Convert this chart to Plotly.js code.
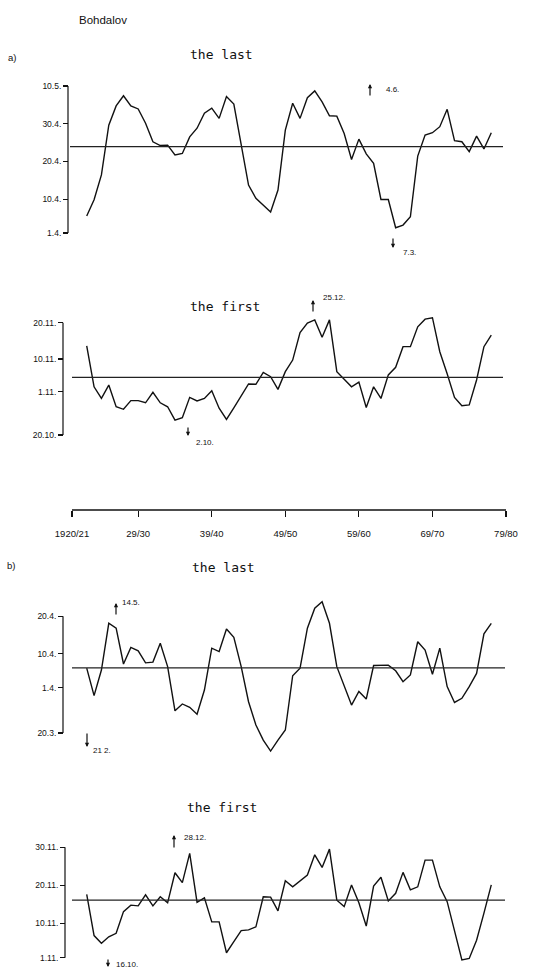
<!DOCTYPE html>
<html><head><meta charset="utf-8">
<script src="https://cdn.plot.ly/plotly-3.0.1.min.js"></script>
<style>html,body{margin:0;padding:0;background:#fff}#chart{width:534px;height:968px}</style>
</head><body><div id="chart"></div>
<script>
// Seasons (x) and axis tick labels
const seasons = [1922,1923,1924,1925,1926,1927,1928,1929,1930,1931,1932,1933,1934,1935,1936,1937,1938,1939,1940,1941,1942,1943,1944,1945,1946,1947,1948,1949,1950,1951,1952,1953,1954,1955,1956,1957,1958,1959,1960,1961,1962,1963,1964,1965,1966,1967,1968,1969,1970,1971,1972,1973,1974,1975,1976,1977];
const xTickVals = [1920,1929,1939,1949,1959,1969,1979];
const xTickText = ['1920/21','29/30','39/40','49/50','59/60','69/70','79/80'];

// a) the last (day of April: 1 = 1.4., 40 = 10.5.)
const lastA = [5.5,9.8,16.4,29.6,34.7,37.4,34.7,33.9,30.1,25.2,24.2,24.3,21.7,22.1,26.5,28.8,32.8,34.1,31.4,37.2,35.2,24.8,13.7,10.2,8.4,6.6,12.4,28.3,35.4,31.4,36.9,38.7,35.8,32.1,32.0,27.4,20.5,25.9,22.0,19.5,9.9,9.9,2.4,3.1,5.3,21.4,27.0,27.6,29.2,33.8,25.5,25.2,22.6,26.7,23.3,27.6];
const meanLastA = 23.9;
const ticksLastA = [1,10,20,30,40];
const labelsLastA = ['1.4.','10.4.','20.4.','30.4.','10.5.'];

// a) the first (day counted from 1 October: 20 = 20.10., 32 = 1.11.)
const firstA = [44.6,33.3,30.1,33.8,27.8,27.1,29.5,29.5,28.9,31.8,28.9,27.8,24.1,24.8,30.4,29.4,30.1,32.2,27.4,24.3,27.5,30.8,34.1,34.0,37.3,36.1,32.6,37.5,40.7,48.3,50.9,51.8,47.0,51.8,37.5,35.4,33.3,34.6,27.6,33.3,30.1,36.6,38.7,44.4,44.4,49.9,52.0,52.4,43.0,36.9,30.4,28.1,28.3,35.2,44.4,47.6];
const meanFirstA = 35.9;
const ticksFirstA = [20,32,41,51];
const labelsFirstA = ['20.10.','1.11.','10.11.','20.11.'];

// b) the last (day counted from 1 March: 20 = 20.3., 32 = 1.4.)
const lastB = [37.2,29.9,36.7,49.1,47.8,38.3,42.7,41.8,38.6,38.8,43.8,37.6,25.9,27.7,26.8,25.0,31.4,42.5,41.6,47.6,45.4,37.6,28.3,22.1,18.1,15.2,18.1,20.8,35.2,37.2,47.8,53.1,54.8,49.1,37.6,32.3,27.4,31.0,29.0,37.9,38.0,38.0,36.5,33.6,35.4,44.2,42.0,35.6,42.5,32.3,28.1,29.2,32.3,35.8,46.3,49.1];
const meanLastB = 37.3;
const ticksLastB = [20,32,41,51];
const labelsLastB = ['20.3.','1.4.','10.4.','20.4.'];

// b) the first (day counted from 1 October: 32 = 1.11.)
const firstB = [48.6,37.8,35.8,37.5,38.4,44.1,45.8,45.6,48.5,45.6,48.0,46.4,54.3,51.7,59.4,46.5,47.7,41.4,41.4,33.3,36.2,39.1,39.3,40.1,48.0,47.9,44.3,52.2,50.6,52.1,53.7,59.0,55.7,60.5,47.1,45.4,51.1,46.4,40.3,50.8,53.1,46.9,48.9,54.4,49.8,50.6,57.6,57.6,50.6,46.7,39.3,31.4,31.8,36.6,43.7,51.1];
const meanFirstB = 47.1;
const ticksFirstB = [32,41,51,61];
const labelsFirstB = ['1.11.','10.11.','20.11.','30.11.'];

// ---------- layout geometry ----------
const W = 534, H = 968;
const pxPerYear = 7.356, x0px = 72, x0yr = 1920;
const xr = [x0yr - x0px / pxPerYear, x0yr + (W - x0px) / pxPerYear];
const fy = p => 1 - p / H;
const fx = p => p / W;

const panels = [
  {y: lastA,  mean: meanLastA,  tv: ticksLastA,  tt: labelsLastA,  d0: 1,  p0: 233,   s: 3.77, top: 78,  bot: 242, ax: 68, l0: 70, l1: 503},
  {y: firstA, mean: meanFirstA, tv: ticksFirstA, tt: labelsFirstA, d0: 20, p0: 435,   s: 3.62, top: 312, bot: 446, ax: 63, l0: 72, l1: 503},
  {y: lastB,  mean: meanLastB,  tv: ticksLastB,  tt: labelsLastB,  d0: 20, p0: 733,   s: 3.77, top: 596, bot: 760, ax: 63, l0: 72, l1: 505},
  {y: firstB, mean: meanFirstB, tv: ticksFirstB, tt: labelsFirstB, d0: 32, p0: 957.7, s: 3.81, top: 836, bot: 968, ax: 65, l0: 72, l1: 505}
];

const traces = [];
const shapes = [];
const layout = {
  width: W, height: H,
  margin: {l: 0, r: 0, t: 0, b: 0},
  paper_bgcolor: '#fff', plot_bgcolor: 'rgba(0,0,0,0)',
  showlegend: false,
  font: {family: 'Liberation Sans, Arial, sans-serif', color: '#000'},
  xaxis: {
    domain: [0, 1], range: xr, anchor: 'free', position: fy(510),
    tickvals: xTickVals, ticktext: xTickText,
    ticks: 'outside', ticklen: 6, tickwidth: 1.2, tickcolor: '#111',
    ticklabelstandoff: 9,
    showgrid: false, zeroline: false, showline: false,
    tickfont: {family: 'Liberation Sans, Arial, sans-serif', size: 9.5, color: '#111'}
  }
};

panels.forEach((p, i) => {
  const yid = i === 0 ? 'y' : 'y' + (i + 1);
  const yname = i === 0 ? 'yaxis' : 'yaxis' + (i + 1);
  const rng = [p.d0 + (p.p0 - p.bot) / p.s, p.d0 + (p.p0 - p.top) / p.s];
  layout[yname] = {
    domain: [fy(p.bot), fy(p.top)], range: rng,
    anchor: 'free', position: fx(p.ax),
    tickvals: p.tv, ticktext: p.tt,
    ticks: 'outside', ticklen: 5, tickwidth: 1.1, tickcolor: '#111',
    showgrid: false, zeroline: false, showline: false,
    tickfont: {family: 'Liberation Sans, Arial, sans-serif', size: 8.5, color: '#111'}
  };
  traces.push({
    x: seasons, y: p.y, xaxis: 'x', yaxis: yid,
    type: 'scatter', mode: 'lines',
    line: {color: '#111', width: 1.4}, hoverinfo: 'skip'
  });
  // long-term mean
  shapes.push({type: 'line', xref: 'paper', yref: yid, x0: fx(p.l0), x1: fx(p.l1), y0: p.mean, y1: p.mean,
    line: {color: '#222', width: 1.2}});
  // y-axis bracket between extreme ticks
  shapes.push({type: 'line', xref: 'paper', yref: yid, x0: fx(p.ax), x1: fx(p.ax),
    y0: Math.min(...p.tv), y1: Math.max(...p.tv), line: {color: '#111', width: 1.2}});
});

// x axis line
shapes.push({type: 'line', xref: 'paper', yref: 'paper', x0: fx(72), x1: fx(506), y0: fy(510), y1: fy(510),
  line: {color: '#111', width: 1.3}});
layout.shapes = shapes;

const titleFont = {family: 'DejaVu Sans Mono, monospace', size: 13, color: '#111'};
const smallFont = {family: 'Liberation Sans, Arial, sans-serif', size: 8, color: '#111'};
function txt(t, x, y, font) {
  return {text: t, x: fx(x), y: fy(y), xref: 'paper', yref: 'paper', showarrow: false,
    xanchor: 'center', yanchor: 'middle', font: font};
}
function arrow(x, yHead, len) { // len>0: tail below head (pointing up); len<0: pointing down
  return {text: '', x: fx(x), y: fy(yHead), xref: 'paper', yref: 'paper', showarrow: true,
    ax: 0, ay: len, arrowhead: 2, arrowsize: 0.7, arrowwidth: 1.2, arrowcolor: '#111', standoff: 0, startstandoff: 0};
}
layout.annotations = [
  txt('Bohdalov', 103, 20, {family: 'Liberation Sans, Arial, sans-serif', size: 11.5, color: '#111'}),
  txt('a)', 12, 58, {family: 'Liberation Sans, Arial, sans-serif', size: 9.5, color: '#111'}),
  txt('the last', 221, 55, titleFont),
  txt('the first', 225, 306, titleFont),
  txt('b)', 11, 565, {family: 'Liberation Sans, Arial, sans-serif', size: 9.5, color: '#111'}),
  txt('the last', 223, 567, titleFont),
  txt('the first', 222, 807, titleFont),
  arrow(370, 84, 13), txt('4.6.', 392, 89, smallFont),
  arrow(393, 248, -11), txt('7.3.', 409, 252, smallFont),
  arrow(313, 300, 13), txt('25.12.', 334, 297, smallFont),
  arrow(188, 436, -10), txt('2.10.', 205, 443, smallFont),
  arrow(116, 603, 13), txt('14.5.', 131, 602, smallFont),
  arrow(87, 747, -15), txt('21 2.', 102, 750, smallFont),
  arrow(174, 835, 14), txt('28.12.', 195, 837, smallFont),
  arrow(108, 967, -9), txt('16.10.', 127, 964, smallFont)
];

Plotly.newPlot('chart', traces, layout, {staticPlot: true, displayModeBar: false});
</script>
</body></html>
